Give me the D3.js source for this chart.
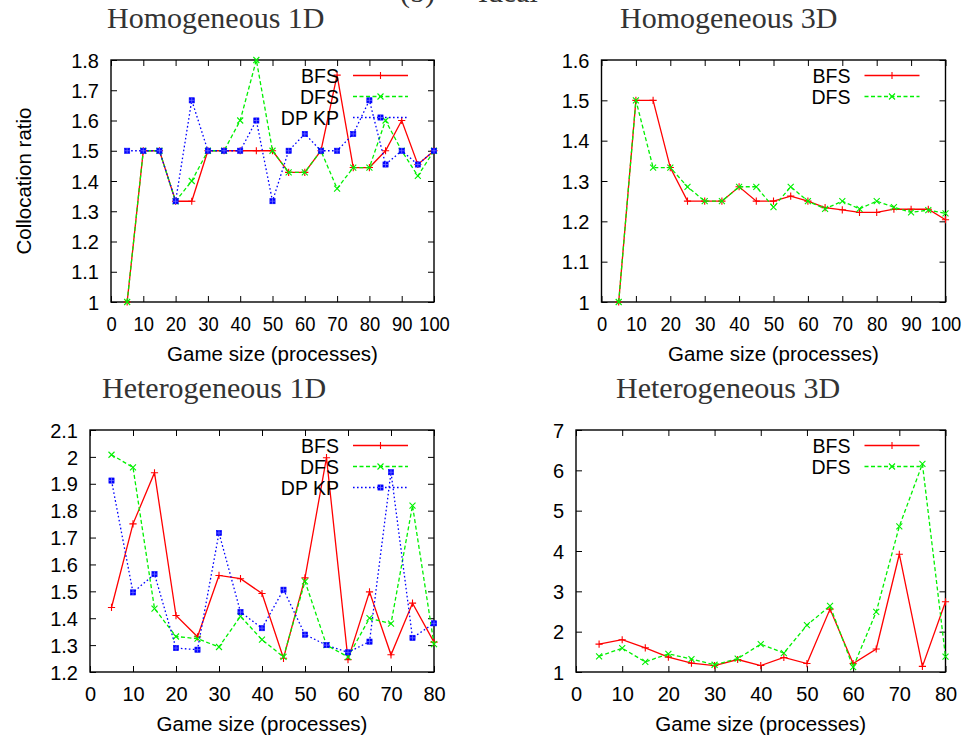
<!DOCTYPE html>
<html>
<head>
<meta charset="utf-8">
<script src="https://cdn.jsdelivr.net/npm/d3@7/dist/d3.min.js"></script>
<style>
  html, body { margin: 0; padding: 0; background: #fff; }
  svg { display: block; }
  .tick-label { font-family: "Liberation Sans", Arial, sans-serif; font-size: 20px; fill: #000; }
  .axis-title { font-family: "Liberation Sans", Arial, sans-serif; font-size: 20.5px; fill: #000; }
  .legend-label { font-family: "Liberation Sans", Arial, sans-serif; font-size: 19.5px; fill: #000; }
  .panel-title { font-family: "Liberation Serif", "Times New Roman", serif; font-size: 30px; fill: #333; }
</style>
</head>
<body>
<svg id="chart" width="972" height="742"></svg>
<script>
// Game sizes (number of processes)
const sizesHomogeneous = [5, 10, 15, 20, 25, 30, 35, 40, 45, 50, 55, 60, 65, 70, 75, 80, 85, 90, 95, 100];
const sizesHeterogeneous = [5, 10, 15, 20, 25, 30, 35, 40, 45, 50, 55, 60, 65, 70, 75, 80];

// Homogeneous 1D collocation ratios
const homo1dBFS  = [1.0, 1.5, 1.5, 1.333, 1.333, 1.5, 1.5, 1.5, 1.5, 1.5, 1.4286, 1.4286, 1.5, 1.75, 1.4444, 1.4444, 1.5, 1.6, 1.4545, 1.5];
const homo1dDFS  = [1.0, 1.5, 1.5, 1.333, 1.4, 1.5, 1.5, 1.6, 1.8, 1.5, 1.4286, 1.4286, 1.5, 1.375, 1.4444, 1.4444, 1.6, 1.5, 1.4167, 1.5];
const homo1dDPKP = [1.5, 1.5, 1.5, 1.333, 1.6667, 1.5, 1.5, 1.5, 1.6, 1.3333, 1.5, 1.5556, 1.5, 1.5, 1.5556, 1.6667, 1.4545, 1.5, 1.4545, 1.5];

// Homogeneous 3D collocation ratios
const homo3dBFS = [1.0, 1.5, 1.5, 1.3333, 1.25, 1.25, 1.25, 1.2857, 1.25, 1.25, 1.2625, 1.25, 1.234, 1.2286, 1.222, 1.222, 1.23, 1.23, 1.23, 1.204];
const homo3dDFS = [1.0, 1.5, 1.3333, 1.3333, 1.2857, 1.25, 1.25, 1.2857, 1.2857, 1.235, 1.2857, 1.25, 1.231, 1.25, 1.231, 1.25, 1.235, 1.222, 1.228, 1.22];

// Heterogeneous 1D collocation ratios
const hetero1dBFS  = [1.44, 1.751, 1.941, 1.41, 1.331, 1.559, 1.547, 1.492, 1.251, 1.55, 1.997, 1.246, 1.498, 1.264, 1.456, 1.311];
const hetero1dDFS  = [2.008, 1.961, 1.436, 1.332, 1.324, 1.293, 1.407, 1.32, 1.256, 1.537, 1.30, 1.256, 1.40, 1.38, 1.819, 1.304];
const hetero1dDPKP = [1.912, 1.496, 1.564, 1.289, 1.283, 1.717, 1.423, 1.363, 1.506, 1.339, 1.30, 1.273, 1.313, 1.943, 1.327, 1.381];

// Heterogeneous 3D collocation ratios
const hetero3dBFS = [1.69, 1.80, 1.60, 1.37, 1.22, 1.16, 1.31, 1.16, 1.36, 1.21, 2.56, 1.21, 1.57, 3.92, 1.14, 2.74];
const hetero3dDFS = [1.39, 1.59, 1.25, 1.45, 1.32, 1.18, 1.33, 1.69, 1.47, 2.16, 2.64, 1.12, 2.49, 4.61, 6.16, 1.38];

// Tick values
const ticksX100 = [0, 10, 20, 30, 40, 50, 60, 70, 80, 90, 100];
const ticksX80 = [0, 10, 20, 30, 40, 50, 60, 70, 80];
const ticksHomo1dY = [1, 1.1, 1.2, 1.3, 1.4, 1.5, 1.6, 1.7, 1.8];
const ticksHomo3dY = [1, 1.1, 1.2, 1.3, 1.4, 1.5, 1.6];
const ticksHetero1dY = [1.2, 1.3, 1.4, 1.5, 1.6, 1.7, 1.8, 1.9, 2, 2.1];
const ticksHetero3dY = [1, 2, 3, 4, 5, 6, 7];

const seriesNames = ["BFS", "DFS", "DP KP"];

const styles = {
  "BFS":   { color: "#ff0000", dash: null,    marker: "plus" },
  "DFS":   { color: "#00f000", dash: "4,2.5", marker: "cross" },
  "DP KP": { color: "#0000ff", dash: "1.6,2.4", marker: "square" }
};

const svg = d3.select("#chart");

// Caption running off the top edge of the figure
const caption = svg.append("text").attr("class", "panel-title").attr("y", 1.5);
caption.append("tspan").attr("x", 400).text("(b)");
caption.append("tspan").attr("x", 478).text("Ideal");

function drawMarker(g, type, x, y, color) {
  const s = 3.6;
  if (type === "plus") {
    g.append("path").attr("d", `M${x - s},${y}H${x + s}M${x},${y - s}V${y + s}`)
      .attr("stroke", color).attr("stroke-width", 1.1).attr("fill", "none");
  } else if (type === "cross") {
    const c = 3;
    g.append("path").attr("d", `M${x - c},${y - c}L${x + c},${y + c}M${x - c},${y + c}L${x + c},${y - c}`)
      .attr("stroke", color).attr("stroke-width", 1.1).attr("fill", "none");
  } else {
    const c = 2.6;
    g.append("rect").attr("x", x - c).attr("y", y - c).attr("width", 2 * c).attr("height", 2 * c)
      .attr("fill", color).attr("stroke", color).attr("stroke-width", 0.6);
    g.append("path").attr("d", `M${x - c},${y}H${x + c}M${x},${y - c}V${y + c}`)
      .attr("stroke", "#7a7aff").attr("stroke-width", 0.7);
  }
}

function drawPanel(p) {
  const x = d3.scaleLinear().domain(p.xDomain).range([p.left, p.right]);
  const y = d3.scaleLinear().domain(p.yDomain).range([p.bottom, p.top]);
  const g = svg.append("g");
  const tickLen = 6;

  // Bottom axis with labels, top mirror ticks
  const bottomAxis = d3.axisBottom(x).tickValues(p.xTicks).tickSize(-tickLen).tickPadding(13).tickFormat(d3.format("d"));
  const gb = g.append("g").attr("transform", `translate(0,${p.bottom})`).call(bottomAxis);
  const gt = g.append("g").attr("transform", `translate(0,${p.top})`)
    .call(d3.axisTop(x).tickValues(p.xTicks).tickSize(-tickLen).tickFormat(""));

  // Left axis with labels, right mirror ticks
  const leftAxis = d3.axisLeft(y).tickValues(p.yTicks).tickSize(-tickLen).tickPadding(12 + tickLen)
    .tickFormat(d => String(+d.toFixed(1)));
  const gl = g.append("g").attr("transform", `translate(${p.left},0)`).call(leftAxis);
  const gr = g.append("g").attr("transform", `translate(${p.right},0)`)
    .call(d3.axisRight(y).tickValues(p.yTicks).tickSize(-tickLen).tickFormat(""));

  [gb, gt, gl, gr].forEach(a => {
    a.select(".domain").remove();
    a.selectAll(".tick line").attr("stroke", "#000").attr("stroke-width", 1);
    a.attr("font-size", null).attr("font-family", null);
  });
  gb.selectAll(".tick line").attr("y2", -tickLen);
  gb.selectAll(".tick text").attr("class", "tick-label").attr("dy", null).attr("y", 29);
  gl.selectAll(".tick text").attr("class", "tick-label").attr("dy", "0.36em").attr("x", -12);
  if (p.xCondensed) {
    gb.selectAll(".tick text").attr("transform", "scale(0.92,1)");
  }

  // Frame
  g.append("rect").attr("x", p.left).attr("y", p.top)
    .attr("width", p.right - p.left).attr("height", p.bottom - p.top)
    .attr("fill", "none").attr("stroke", "#000").attr("stroke-width", 1.4);

  // Series
  const line = d3.line().x(d => x(d[0])).y(d => y(d[1]));
  p.series.forEach(s => {
    const st = styles[s.name];
    const pts = p.sizes.map((v, i) => [v, s.values[i]]);
    g.append("path").datum(pts).attr("d", line)
      .attr("fill", "none").attr("stroke", st.color).attr("stroke-width", 1.3)
      .attr("stroke-dasharray", st.dash);
    const mg = g.append("g");
    pts.forEach(d => drawMarker(mg, st.marker, x(d[0]), y(d[1]), st.color));
  });

  // Legend (top right, inside frame)
  const lx1 = p.right - 81, lx2 = p.right - 26;
  p.series.forEach((s, i) => {
    const st = styles[s.name];
    const ly = p.top + 15.5 + i * 21;
    g.append("text").attr("class", "legend-label").attr("x", lx1 - 14).attr("y", ly)
      .attr("dy", "0.36em").attr("text-anchor", "end").text(s.name);
    g.append("line").attr("x1", lx1).attr("x2", lx2).attr("y1", ly).attr("y2", ly)
      .attr("stroke", st.color).attr("stroke-width", 1.3).attr("stroke-dasharray", st.dash);
    drawMarker(g, st.marker, (lx1 + lx2) / 2, ly, st.color);
  });

  // Axis title
  g.append("text").attr("class", "axis-title").attr("text-anchor", "middle")
    .attr("x", (p.left + p.right) / 2).attr("y", p.bottom + 59).text("Game size (processes)");

  if (p.yTitle) {
    g.append("text").attr("class", "axis-title").attr("text-anchor", "middle")
      .attr("transform", `translate(31,${(p.top + p.bottom) / 2}) rotate(-90)`)
      .text(p.yTitle);
  }

  // Panel title
  svg.append("text").attr("class", "panel-title").attr("x", p.titleX).attr("y", p.titleY).text(p.title);
}

drawPanel({
  title: "Homogeneous 1D", titleX: 107, titleY: 28,
  left: 111, right: 434, top: 60, bottom: 302,
  xDomain: [0, 100], yDomain: [1, 1.8], xTicks: ticksX100, yTicks: ticksHomo1dY,
  xCondensed: true, yTitle: "Collocation ratio",
  sizes: sizesHomogeneous,
  series: [
    { name: seriesNames[0], values: homo1dBFS },
    { name: seriesNames[1], values: homo1dDFS },
    { name: seriesNames[2], values: homo1dDPKP }
  ]
});

drawPanel({
  title: "Homogeneous 3D", titleX: 620, titleY: 28,
  left: 601.5, right: 945.5, top: 60, bottom: 302,
  xDomain: [0, 100], yDomain: [1, 1.6], xTicks: ticksX100, yTicks: ticksHomo3dY,
  xCondensed: true,
  sizes: sizesHomogeneous,
  series: [
    { name: seriesNames[0], values: homo3dBFS },
    { name: seriesNames[1], values: homo3dDFS }
  ]
});

drawPanel({
  title: "Heterogeneous 1D", titleX: 102, titleY: 398,
  left: 90, right: 434, top: 430, bottom: 672,
  xDomain: [0, 80], yDomain: [1.2, 2.1], xTicks: ticksX80, yTicks: ticksHetero1dY,
  sizes: sizesHeterogeneous,
  series: [
    { name: seriesNames[0], values: hetero1dBFS },
    { name: seriesNames[1], values: hetero1dDFS },
    { name: seriesNames[2], values: hetero1dDPKP }
  ]
});

drawPanel({
  title: "Heterogeneous 3D", titleX: 616, titleY: 398,
  left: 576, right: 945.5, top: 430, bottom: 672,
  xDomain: [0, 80], yDomain: [1, 7], xTicks: ticksX80, yTicks: ticksHetero3dY,
  sizes: sizesHeterogeneous,
  series: [
    { name: seriesNames[0], values: hetero3dBFS },
    { name: seriesNames[1], values: hetero3dDFS }
  ]
});
</script>
</body>
</html>
